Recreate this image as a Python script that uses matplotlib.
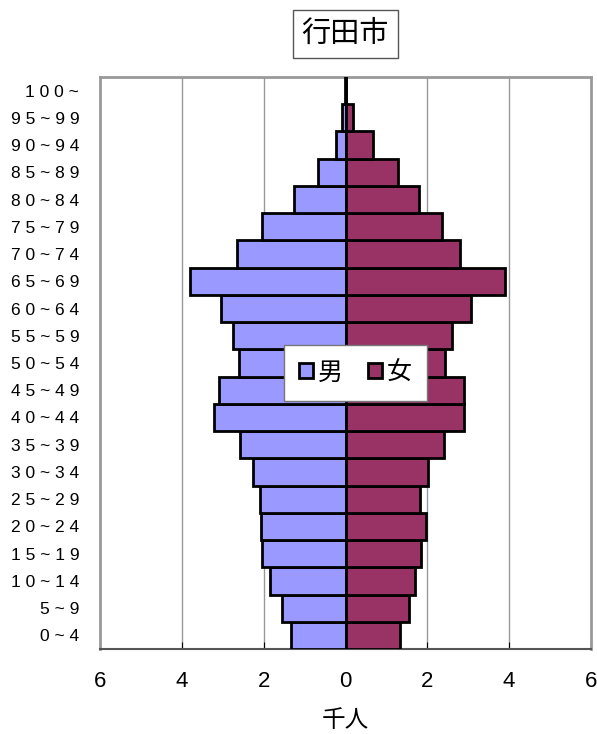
import matplotlib.pyplot as plt
import numpy as np

ages = ['0 ~ 4', '5 ~ 9', '1 0 ~ 1 4', '1 5 ~ 1 9', '2 0 ~ 2 4', '2 5 ~ 2 9',
        '3 0 ~ 3 4', '3 5 ~ 3 9', '4 0 ~ 4 4', '4 5 ~ 4 9', '5 0 ~ 5 4',
        '5 5 ~ 5 9', '6 0 ~ 6 4', '6 5 ~ 6 9', '7 0 ~ 7 4', '7 5 ~ 7 9',
        '8 0 ~ 8 4', '8 5 ~ 8 9', '9 0 ~ 9 4', '9 5 ~ 9 9', '1 0 0 ~']
male = [1.34, 1.55, 1.84, 2.03, 2.06, 2.08, 2.25, 2.57, 3.21, 3.09, 2.60,
        2.74, 3.04, 3.80, 2.66, 2.03, 1.25, 0.66, 0.23, 0.08, 0.01]
female = [1.34, 1.55, 1.70, 1.85, 1.97, 1.83, 2.02, 2.40, 2.90, 2.89, 2.42,
          2.60, 3.07, 3.91, 2.80, 2.37, 1.80, 1.29, 0.67, 0.18, 0.01]

plt.rcParams['font.family'] = ['Liberation Sans', 'Noto Sans CJK JP']

fig = plt.figure(figsize=(5.97, 7.34), dpi=100)
ax = fig.add_axes([100 / 597, 1 - 649 / 734, 491 / 597, 572 / 734])

y = np.arange(len(ages))
ax.barh(y, -np.array(male), height=1.0, color='#9999ff', edgecolor='black',
        linewidth=2, label='男', zorder=3)
ax.barh(y, female, height=1.0, color='#993366', edgecolor='black',
        linewidth=2, label='女', zorder=3)

ax.set_xlim(-6, 6)
ax.set_ylim(-0.5, len(ages) - 0.5)
ax.set_xticks([-6, -4, -2, 0, 2, 4, 6])
ax.set_xticklabels(['6', '4', '2', '0', '2', '4', '6'], fontsize=16)
ax.set_yticks(y)
ax.set_yticklabels(ages, fontsize=12.5)
ax.tick_params(axis='y', length=0, pad=15)
ax.tick_params(axis='x', direction='in', length=5, pad=16, color='black')
for xv in [-4, -2, 2, 4]:
    ax.axvline(xv, color='#999999', lw=1, zorder=1)
for side in ['top', 'right', 'left']:
    ax.spines[side].set_color('#999999')
    ax.spines[side].set_linewidth(2)
ax.spines['bottom'].set_color('#555555')
ax.spines['bottom'].set_linewidth(1.5)

ax.set_xlabel('千人', fontsize=17, family=['Noto Sans CJK JP'], labelpad=12)

leg = ax.legend(loc='center', bbox_to_anchor=(0.52, 0.483), ncol=2,
                prop={'family': 'Noto Sans CJK JP', 'size': 18},
                handlelength=0.55, handleheight=0.55, handletextpad=0.2,
                columnspacing=1.0, fancybox=False, framealpha=1,
                borderpad=0.6, borderaxespad=0, edgecolor='#777777')
leg.set_zorder(5)
for h in leg.legend_handles:
    h.set_linewidth(2)

fig.text(0.578, 0.9535, '行田市', ha='center', va='center', fontsize=21,
         family=['Noto Sans CJK JP'],
         bbox=dict(boxstyle='square,pad=0.3', fc='white', ec='#555555', lw=1))

fig.savefig('out.png', dpi=100)
